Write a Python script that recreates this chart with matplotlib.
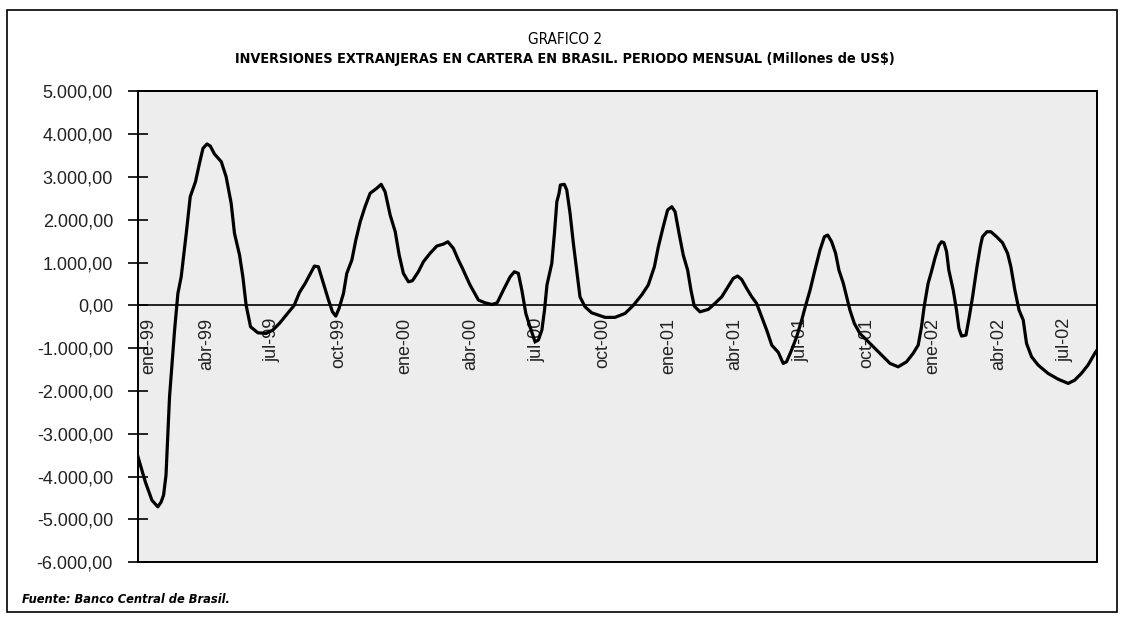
import matplotlib
matplotlib.use("Agg")
import matplotlib.pyplot as plt
from matplotlib.patches import Rectangle
from matplotlib.ticker import FuncFormatter

# meses desde enero 1999 / millones de US$
meses = [-0.10, 0.23, 0.53, 0.80, 0.95, 1.06, 1.17, 1.33, 1.56, 1.71, 1.86,
         2.09, 2.27, 2.51, 2.69, 2.85, 3.03, 3.18, 3.37, 3.68, 3.90, 4.13,
         4.28, 4.51, 4.66, 4.81, 5.01, 5.34, 5.72, 6.02, 6.32, 6.99, 7.23,
         7.49, 7.91, 8.09, 8.32, 8.55, 8.73, 8.88, 9.03, 9.23, 9.38, 9.61,
         9.79, 9.99, 10.21, 10.44, 10.74, 10.94, 11.12, 11.35, 11.58, 11.76,
         11.95, 12.18, 12.36, 12.63, 12.86, 13.16, 13.47, 13.77, 13.97, 14.22,
         14.45, 14.60, 14.98, 15.36, 15.66, 15.98, 16.21, 16.49, 16.80, 16.99,
         17.17, 17.33, 17.51, 17.70, 17.93, 18.08, 18.24, 18.36, 18.47, 18.69,
         18.81, 18.92, 19.02, 19.08, 19.26, 19.37, 19.52, 19.67, 19.82, 19.97,
         20.20, 20.50, 21.11, 21.56, 22.02, 22.39, 22.77, 23.07, 23.35, 23.53,
         23.75, 23.95, 24.14, 24.29, 24.47, 24.66, 24.86, 25.01, 25.16, 25.42,
         25.80, 26.10, 26.41, 26.71, 26.93, 27.13, 27.31, 27.54, 27.77, 27.99,
         28.22, 28.45, 28.68, 28.98, 29.20, 29.35, 29.58, 29.81, 30.04, 30.22,
         30.42, 30.64, 30.87, 31.07, 31.22, 31.40, 31.58, 31.73, 31.93, 32.08,
         32.23, 32.43, 32.68, 32.99, 33.29, 33.67, 34.05, 34.42, 34.80, 35.10,
         35.33, 35.48, 35.60, 35.78, 35.93, 36.09, 36.27, 36.39, 36.50, 36.62,
         36.72, 36.92, 37.07, 37.18, 37.30, 37.50, 37.65, 37.80, 38.00, 38.15,
         38.25, 38.45, 38.63, 38.89, 39.16, 39.39, 39.54, 39.72, 39.91, 40.10,
         40.25, 40.48, 40.78, 41.23, 41.68, 42.14, 42.44, 42.74, 43.04, 43.35,
         43.45]
inversiones = [-3540, -4120, -4550, -4705, -4590, -4430, -3965, -2135, -577, 280, 668,
               1682, 2537, 2888, 3318, 3668, 3769, 3722, 3535, 3355, 3005, 2383,
               1682, 1175, 668, 0, -500, -640, -654, -577, -421, 0, 300,
               514, 918, 902, 514, 124, -150, -250, -70, 280, 748, 1058,
               1526, 1953, 2304, 2617, 2734, 2827, 2654, 2110, 1720, 1175,
               748, 551, 575, 785, 1019, 1215, 1386, 1432, 1486, 1332,
               1058, 902, 474, 124, 60, 20, 60, 357, 668, 785,
               748, 357, -187, -500, -850, -811, -577, -110, 474, 981,
               1682, 2421, 2617, 2811, 2827, 2694, 2150, 1449, 825, 201,
               -33, -173, -280, -280, -187, 0, 241, 474, 902, 1369,
               1836, 2227, 2304, 2187, 1682, 1175, 825, 357, -16, -150,
               -93, 47, 201, 451, 631, 685, 607, 397, 201, 47,
               -266, -577, -928, -1100, -1355, -1318, -1044, -734, -343, 0,
               357, 825, 1292, 1603, 1643, 1486, 1215, 825, 514, 201,
               -110, -421, -654, -811, -967, -1161, -1355, -1435, -1318, -1121,
               -928, -500, -33, 514, 785, 1100, 1400, 1486, 1463, 1252,
               825, 357, -110, -537, -717, -694, -266, 201, 902, 1369,
               1603, 1720, 1720, 1603, 1463, 1215, 902, 357, -110, -343,
               -888, -1201, -1395, -1589, -1722, -1822, -1745, -1589, -1395, -1121,
               -1044]

etiquetas = ["ene-99", "abr-99", "jul-99", "oct-99", "ene-00", "abr-00", "jul-00",
             "oct-00", "ene-01", "abr-01", "jul-01", "oct-01", "ene-02", "abr-02",
             "jul-02"]
pos_etiquetas = [0.4] + list(range(3, 45, 3))

plt.rcParams["font.family"] = ["Liberation Sans", "DejaVu Sans"]

fig = plt.figure(figsize=(11.25, 6.23), dpi=100)
ax = fig.add_axes([0.1227, 0.0974, 0.8524, 0.7561])
ax.set_facecolor("#ededed")

ax.plot(meses, inversiones, color="black", lw=2.3, solid_joinstyle="round")
ax.axhline(0, color="black", lw=1.2)

ax.set_xlim(-0.10, 43.45)
ax.set_ylim(-6000, 5000)
ax.set_yticks(range(-6000, 5001, 1000))
ax.yaxis.set_major_formatter(FuncFormatter(
    lambda v, p: f"{v:,.2f}".replace(",", "X").replace(".", ",").replace("X", ".")))
ax.tick_params(axis="y", direction="inout", length=14, width=1.2, labelsize=13,
               pad=11, labelcolor="#222222")

# etiquetas del eje x colgando del cero
ax.spines["bottom"].set_position(("data", 0))
ax.spines["bottom"].set_visible(False)
ax.set_xticks(pos_etiquetas)
ax.set_xticklabels(etiquetas, rotation=90, fontsize=13, color="#222222")
ax.tick_params(axis="x", length=0, pad=9)

for s in ["top", "right", "left"]:
    ax.spines[s].set_linewidth(1.2)
ax.add_patch(Rectangle((0, 0), 1, 1, transform=ax.transAxes, fill=False,
                       lw=1.4, ec="black", clip_on=False, zorder=5))

# titulos en letra estrecha
fig.text(0.502, 0.936, "GRAFICO 2", ha="center", va="center", fontsize=11,
         family="DejaVu Sans", fontstretch="condensed")
fig.text(0.502, 0.906,
         "INVERSIONES EXTRANJERAS EN CARTERA EN BRASIL. PERIODO MENSUAL (Millones de US$)",
         ha="center", va="center", fontsize=10.4, fontweight="bold",
         family="DejaVu Sans", fontstretch="condensed")
fig.text(0.02, 0.037, "Fuente: Banco Central de Brasil.", ha="left", va="center",
         fontsize=9.2, fontstyle="italic", fontweight="bold",
         family="DejaVu Sans", fontstretch="condensed")

# marco exterior
fig.add_artist(Rectangle((0.006, 0.018), 0.987, 0.966, transform=fig.transFigure,
                         fill=False, lw=1.2, ec="black"))

fig.savefig("out.png", dpi=100)
